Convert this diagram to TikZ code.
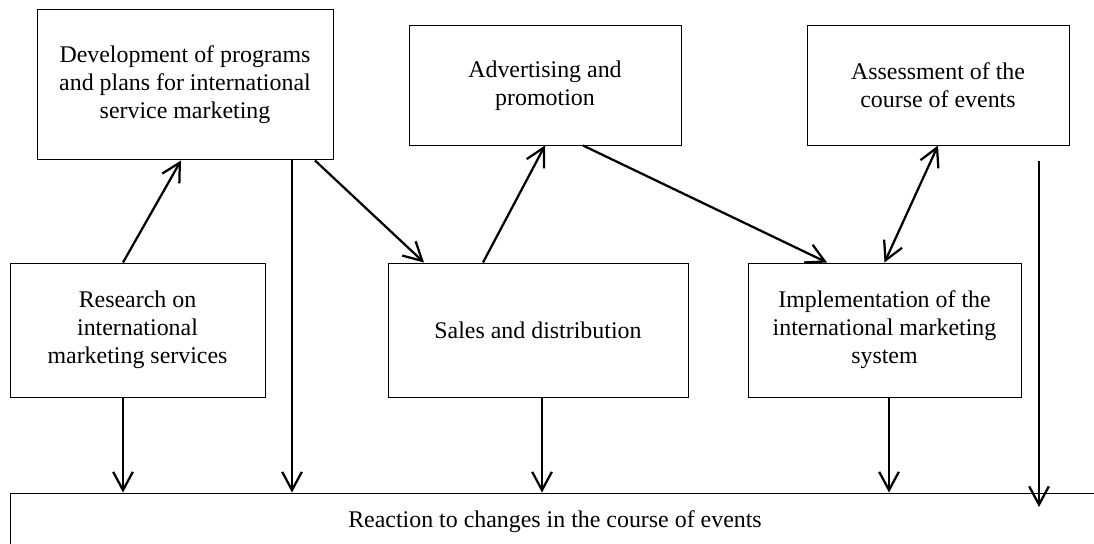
\documentclass[tikz,border=0pt]{standalone}
\usepackage{fontspec}
\setmainfont{Liberation Serif}
\usetikzlibrary{arrows.meta}

\begin{document}
\begin{tikzpicture}[
    box/.style={draw, line width=0.7pt, align=center, inner sep=0pt,
      font=\fontsize{17}{20}\selectfont},
    arr/.style={line width=1.6pt},
    >={Straight Barb[length=13pt, width=14pt]}
  ]
  \clip (0,0) rectangle (27.35,13.6);

  \node[box, minimum width=7.4cm,   minimum height=3.75cm]  (prog)   at (4.625,11.475)
    {Development of programs\\and plans for international\\service marketing};
  \node[box, minimum width=6.8cm,   minimum height=2.975cm] (advert) at (13.625,11.4625)
    {Advertising and\\promotion};
  \node[box, minimum width=6.55cm,  minimum height=2.975cm] (assess) at (23.45,11.4625)
    {Assessment of the\\course of events};
  \node[box, minimum width=6.375cm, minimum height=3.35cm]  (resrch) at (3.4375,5.35)
    {Research on\\international\\marketing services};
  \node[box, minimum width=7.5cm,   minimum height=3.35cm]  (sales)  at (13.45,5.35)
    {Sales and distribution};
  \node[box, minimum width=6.825cm, minimum height=3.35cm]  (impl)   at (22.1125,5.35)
    {Implementation of the\\international marketing\\system};
  \node[box, minimum width=27.25cm, minimum height=1.45cm]  (react)  at (13.875,0.55)
    {Reaction to changes in the course of events};

  % links between the blocks
  \draw[arr, ->] ([xshift=-0.3625cm]resrch.north) -- ([xshift=-0.1cm]prog.south);
  \draw[arr, ->] ([xshift=3.25cm]prog.south) -- ([xshift=-2.85cm]sales.north);
  \draw[arr, ->] ([xshift=-1.375cm]sales.north) -- (advert.south);
  \draw[arr, ->] ([xshift=0.95cm]advert.south) -- ([xshift=-1.4375cm]impl.north);
  \draw[arr, <->] (assess.south) -- (impl.north);

  % drops to the reaction block
  \coordinate (d1) at ([xshift=-0.3625cm]resrch.south);
  \coordinate (d2) at ([xshift=2.675cm]prog.south);
  \coordinate (d3) at ([xshift=0.1cm]sales.south);
  \coordinate (d4) at ([xshift=0.1125cm]impl.south);
  \coordinate (d5) at (25.975,9.575);
  \coordinate (e5) at (25.975,0.925);

  \draw[arr, ->] (d1) -- (d1 |- react.north);
  \draw[arr, ->] (d2) -- (d2 |- react.north);
  \draw[arr, ->] (d3) -- (d3 |- react.north);
  \draw[arr, ->] (d4) -- (d4 |- react.north);
  \draw[arr, ->] (d5) -- (e5);
\end{tikzpicture}
\end{document}
